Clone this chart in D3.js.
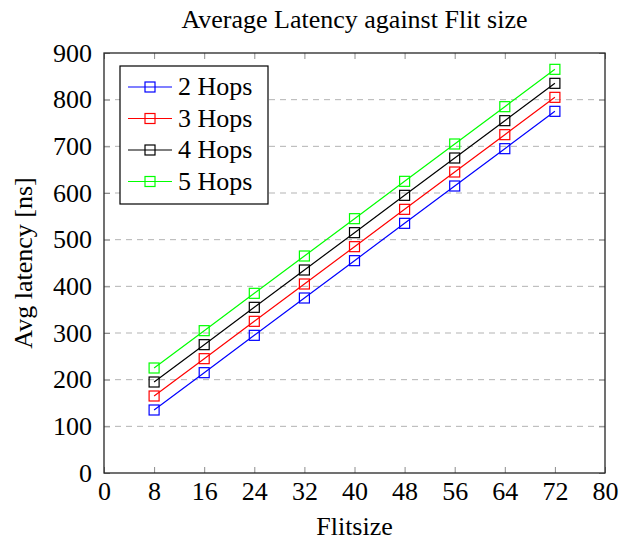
<!DOCTYPE html>
<html>
<head>
<meta charset="utf-8">
<script src="https://cdn.jsdelivr.net/npm/d3@7"></script>
<style>
  body { margin: 0; background: #fff; }
</style>
</head>
<body>
<div id="chart"></div>
<script>
// data
var flitSizes = [8, 16, 24, 32, 40, 48, 56, 64, 72]
var hops2 = [135, 215, 295, 375, 455, 535, 615, 695, 775]
var hops3 = [165, 245, 325, 405, 485, 565, 645, 725, 805]
var hops4 = [195, 275, 355, 435, 515, 595, 675, 755, 835]
var hops5 = [225, 305, 385, 465, 545, 625, 705, 785, 865]
var seriesNames = ["2 Hops", "3 Hops", "4 Hops", "5 Hops"]
var seriesColors = ["#0000ff", "#ff0000", "#000000", "#00ff00"]
var xTicks = [0, 8, 16, 24, 32, 40, 48, 56, 64, 72, 80]
var yTicks = [0, 100, 200, 300, 400, 500, 600, 700, 800, 900]

var allSeries = [hops2, hops3, hops4, hops5]

var width = 637, height = 540
var plotLeft = 104, plotRight = 605, plotTop = 53, plotBottom = 473
var serif = "Liberation Serif"

var svg = d3.select("#chart").append("svg")
            .attr("width", width)
            .attr("height", height)
            .attr("font-family", serif)

var x = d3.scaleLinear().domain([0, 80]).range([plotLeft, plotRight])
var y = d3.scaleLinear().domain([0, 900]).range([plotBottom, plotTop])

// dashed grid lines
svg.append("g")
   .selectAll("line")
   .data(yTicks.filter(function(d) { return d > 0 && d < 900 }))
   .enter().append("line")
   .attr("x1", plotLeft).attr("x2", plotRight)
   .attr("y1", function(d) { return y(d) }).attr("y2", function(d) { return y(d) })
   .attr("stroke", "#b3b3b3")
   .attr("stroke-width", 1)
   .attr("stroke-dasharray", "6,5")

// axes with inward ticks
var xAxis = svg.append("g")
   .attr("transform", "translate(0," + plotBottom + ")")
   .call(d3.axisBottom(x).tickValues(xTicks).tickSizeInner(-6).tickSizeOuter(0).tickPadding(9))
var xAxisTop = svg.append("g")
   .attr("transform", "translate(0," + plotTop + ")")
   .call(d3.axisTop(x).tickValues(xTicks).tickSizeInner(-6).tickSizeOuter(0).tickFormat(""))
var yAxis = svg.append("g")
   .attr("transform", "translate(" + plotLeft + ",0)")
   .call(d3.axisLeft(y).tickValues(yTicks).tickSizeInner(-6).tickSizeOuter(0).tickPadding(12))
var yAxisRight = svg.append("g")
   .attr("transform", "translate(" + plotRight + ",0)")
   .call(d3.axisRight(y).tickValues(yTicks).tickSizeInner(-6).tickSizeOuter(0).tickFormat(""))

;[xAxis, xAxisTop, yAxis, yAxisRight].forEach(function(a) {
  a.attr("font-family", serif).attr("font-size", 26)
  a.select(".domain").remove()
  a.selectAll(".tick line").attr("stroke", "#8c8c8c").attr("stroke-width", 1)
  a.selectAll("text").attr("fill", "#000")
})

// frame
svg.append("rect")
   .attr("x", plotLeft).attr("y", plotTop)
   .attr("width", plotRight - plotLeft).attr("height", plotBottom - plotTop)
   .attr("fill", "none")
   .attr("stroke", "#262626")
   .attr("stroke-width", 1.3)

var line = d3.line()
  .x(function(d, i) { return x(flitSizes[i]) })
  .y(function(d) { return y(d) })

allSeries.forEach(function(s, k) {
  var g = svg.append("g")
  g.append("path")
   .datum(s)
   .attr("d", line)
   .attr("fill", "none")
   .attr("stroke", seriesColors[k])
   .attr("stroke-width", 1.2)
  g.selectAll("rect")
   .data(s)
   .enter().append("rect")
   .attr("x", function(d, i) { return x(flitSizes[i]) - 5 })
   .attr("y", function(d) { return y(d) - 5 })
   .attr("width", 10).attr("height", 10)
   .attr("fill", "none")
   .attr("stroke", seriesColors[k])
   .attr("stroke-width", 1.2)
})

// legend
var legend = svg.append("g")
legend.append("rect")
   .attr("x", 120).attr("y", 66)
   .attr("width", 148).attr("height", 138)
   .attr("fill", "#fff")
   .attr("stroke", "#000")
   .attr("stroke-width", 1.2)
seriesNames.forEach(function(name, k) {
  var ly = 87 + k * 31.5
  legend.append("line")
     .attr("x1", 128).attr("x2", 172)
     .attr("y1", ly).attr("y2", ly)
     .attr("stroke", seriesColors[k])
     .attr("stroke-width", 1.2)
  legend.append("rect")
     .attr("x", 145).attr("y", ly - 5)
     .attr("width", 10).attr("height", 10)
     .attr("fill", "none")
     .attr("stroke", seriesColors[k])
     .attr("stroke-width", 1.2)
  legend.append("text")
     .attr("x", 178).attr("y", ly + 8)
     .attr("font-size", 26)
     .text(name)
})

// titles
svg.append("text")
   .attr("x", (plotLeft + plotRight) / 2).attr("y", 28)
   .attr("text-anchor", "middle")
   .attr("font-size", 26)
   .text("Average Latency against Flit size")
svg.append("text")
   .attr("x", (plotLeft + plotRight) / 2).attr("y", 535)
   .attr("text-anchor", "middle")
   .attr("font-size", 26)
   .text("Flitsize")
svg.append("text")
   .attr("transform", "translate(32," + ((plotTop + plotBottom) / 2) + ") rotate(-90)")
   .attr("text-anchor", "middle")
   .attr("font-size", 26)
   .text("Avg latency [ns]")
</script>
</body>
</html>
